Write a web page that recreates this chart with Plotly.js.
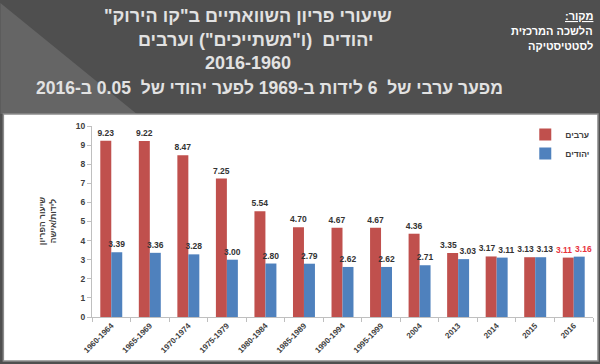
<!DOCTYPE html>
<html>
<head>
<meta charset="utf-8">
<script src="https://cdn.plot.ly/plotly-3.0.1.min.js"></script>
<style>html,body{margin:0;padding:0;background:#4f4f4f;}#chart{width:600px;height:364px;}</style>
</head>
<body>
<div id="chart"></div>
<script>
// ---- data ----
const categories = ["1960-1964","1965-1969","1970-1974","1975-1979","1980-1984","1985-1989","1990-1994","1995-1999","2004","2013","2014","2015","2016"];
const arabs = [9.23, 9.22, 8.47, 7.25, 5.54, 4.70, 4.67, 4.67, 4.36, 3.35, 3.17, 3.13, 3.11];
const jews  = [3.39, 3.36, 3.28, 3.00, 2.80, 2.79, 2.62, 2.62, 2.71, 3.03, 3.11, 3.13, 3.16];
const seriesNames = ["ערבים", "יהודים"];
const titleLines = [
  'שיעורי פריון השוואתיים ב"קו הירוק"',
  'יהודים  (ו"משתייכים") וערבים',
  '2016-1960',
  'מפער ערבי של  6 לידות ב-1969 לפער יהודי של  0.05 ב-2016'
];
const sourceLines = ['מקור:', 'הלשכה המרכזית', 'לסטטיסטיקה'];
const yTitle = ['שיעור הפריון', 'לידות/אישה'];

// ---- layout helpers (pixel -> paper) ----
const W = 600, H = 364;
const M = {l: 92, r: 5, t: 126, b: 47};
const PW = W - M.l - M.r, PH = H - M.t - M.b;
const px = x => (x - M.l) / PW;
const py = y => (H - M.b - y) / PH;
const rtl = s => '\u202B' + s + '\u202C';
const FONT = 'Liberation Sans, Arial, sans-serif';

const labelColor = '#333333';
const lastColor = '#e8323c';
const nCat = categories.length;
const labelColors = (arr) => arr.map((v, i) => i === arr.length - 1 ? lastColor : labelColor);
// where the two value labels of a group sit close together, push them apart a little
const closePair = (i) => Math.abs(arabs[i] - jews[i]) < 0.5;
const redTemplates = categories.map((c, i) => closePair(i) ? '%{y:.2f}\u2003' : '%{y:.2f}');
const blueTemplates = categories.map((c, i) => closePair(i) ? '\u2003%{y:.2f}' : '%{y:.2f}');

const traces = [
  {
    type: 'bar', name: rtl(seriesNames[0]), x: categories, y: arabs,
    marker: {color: '#c0504d'},
    texttemplate: redTemplates, textposition: 'outside', cliponaxis: false, constraintext: 'none',
    textfont: {family: FONT, size: 8.5, weight: 'bold', color: labelColors(arabs)},
    hoverinfo: 'none'
  },
  {
    type: 'bar', name: rtl(seriesNames[1]), x: categories, y: jews,
    marker: {color: '#4f81bd'},
    texttemplate: blueTemplates, textposition: 'outside', cliponaxis: false, constraintext: 'none',
    textfont: {family: FONT, size: 8.5, weight: 'bold', color: labelColors(jews)},
    hoverinfo: 'none'
  }
];

const titleY = [16, 40, 63, 88];
const titleX = [249, 256, 249, 270];
const titleSize = [18, 18, 18, 17.5];
const annotations = titleLines.map((t, i) => ({
  xref: 'paper', yref: 'paper', x: px(titleX[i]), y: py(titleY[i]),
  xanchor: 'center', yanchor: 'middle', showarrow: false,
  text: '<b>' + rtl(t) + '</b>',
  font: {family: FONT, size: titleSize[i], color: '#e2e2e2'}
}));
const srcY = [16, 31, 46];
sourceLines.forEach((t, i) => annotations.push({
  xref: 'paper', yref: 'paper', x: px(597), y: py(srcY[i]),
  xanchor: 'right', yanchor: 'middle', showarrow: false,
  text: i === 0 ? '<b><u>' + rtl(t) + '</u></b>' : '<b>' + rtl(t) + '</b>',
  font: {family: FONT, size: 11, color: '#ffffff'}
}));
annotations.push({
  xref: 'paper', yref: 'paper', x: px(47), y: py(221),
  xanchor: 'center', yanchor: 'middle', showarrow: false, textangle: -90,
  text: '<b>' + rtl(yTitle[0]) + '<br>' + rtl(yTitle[1]) + '</b>',
  font: {family: FONT, size: 8.5, color: '#404040'}
});

const shapes = [
  {type: 'path', xref: 'paper', yref: 'paper', layer: 'below',
   path: `M ${px(0)},${py(3)} L ${px(137)},${py(114)} L ${px(0)},${py(114)} Z`,
   fillcolor: '#656565', line: {width: 0}},
  {type: 'rect', xref: 'paper', yref: 'paper', layer: 'below',
   x0: px(3), x1: px(600), y0: py(361), y1: py(114),
   fillcolor: '#ffffff', line: {color: '#8c8c8c', width: 1.5}}
];

const layout = {
  width: W, height: H,
  margin: M,
  paper_bgcolor: '#4f4f4f', plot_bgcolor: 'rgba(0,0,0,0)',
  barmode: 'group', bargap: 0.43, bargroupgap: 0,
  showlegend: true,
  legend: {x: px(527), y: py(120), xanchor: 'left', yanchor: 'top',
           bgcolor: 'rgba(0,0,0,0)', font: {family: FONT, size: 8.5, weight: 'bold', color: '#404040'},
           tracegroupgap: 0},
  xaxis: {
    type: 'category', showline: true, linecolor: '#bfbfbf', linewidth: 1,
    ticks: 'outside', tickson: 'boundaries', ticklen: 4, tickcolor: '#bfbfbf',
    tickangle: -45, tickfont: {family: FONT, size: 8, weight: 'bold', color: '#404040'},
    showgrid: false, zeroline: false, automargin: false
  },
  yaxis: {
    range: [0, 10], dtick: 1, showline: true, linecolor: '#bfbfbf', linewidth: 1,
    ticks: 'outside', ticklen: 4, tickcolor: '#bfbfbf',
    tickfont: {family: FONT, size: 8.5, weight: 'bold', color: '#404040'},
    showgrid: false, zeroline: false, automargin: false
  },
  annotations: annotations,
  shapes: shapes
};

Plotly.newPlot('chart', traces, layout, {staticPlot: true, displayModeBar: false});
</script>
</body>
</html>
